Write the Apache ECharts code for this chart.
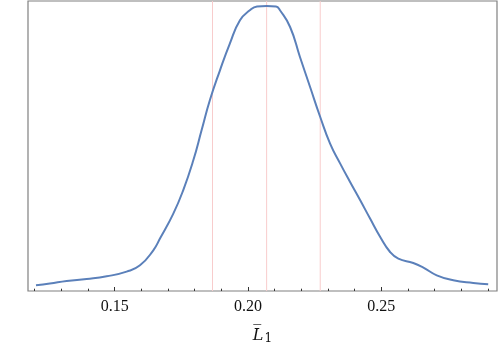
<!DOCTYPE html>
<html>
<head>
<meta charset="utf-8">
<script src="https://cdn.jsdelivr.net/npm/echarts@6/dist/echarts.min.js"></script>
<style>
  html, body { margin: 0; padding: 0; background: #fff; }
  #chart { width: 498px; height: 344px; }
</style>
</head>
<body>
<div id="chart"></div>
<script>
// density curve
const xs = [0.1205, 0.1257, 0.1320, 0.1395, 0.1470, 0.1545, 0.1595, 0.1645, 0.1670, 0.1720,
  0.1757, 0.1795, 0.1826, 0.1857, 0.1895, 0.1932, 0.1970, 0.2007, 0.2034, 0.2070, 0.2105,
  0.2120, 0.2158, 0.2195, 0.2233, 0.2271, 0.2308, 0.2346, 0.2383, 0.2421, 0.2458, 0.2496,
  0.2533, 0.2564, 0.2620, 0.2658, 0.2708, 0.2770, 0.2845, 0.2901];
const ys = [5.7, 7.4, 10, 12, 14.7, 19.4, 25.7, 40.7, 52.4, 77.4,
  100.7, 130.7, 160.7, 190.7, 220.7, 247.4, 270.7, 280.7, 284.5, 285, 284.5,
  280.7, 264, 234, 204, 174, 147.4, 127.4, 109, 90.7, 72.4, 54,
  39, 32.4, 28, 23.4, 15.7, 10.7, 8, 6.7];
const refLines = [0.1867, 0.2070, 0.2271];
const majorTicks = [0.15, 0.20, 0.25];
const minorTicks = [0.12, 0.13, 0.14, 0.16, 0.17, 0.18, 0.19, 0.21, 0.22, 0.23, 0.24, 0.26, 0.27, 0.28, 0.29];

const chart = echarts.init(document.getElementById('chart'));
const xMin = 0.1175, xMax = 0.2934;
const yMax = 290;

// faint vertical reference lines drawn as plain series
const refSeries = refLines.map(v => ({
  type: 'line',
  data: [[v, 0], [v, yMax]],
  symbol: 'none',
  silent: true,
  lineStyle: { color: '#f8cccc', width: 1 },
  z: 1
}));

chart.setOption({
  animation: false,
  grid: {
    left: 28, right: 1, top: 1, bottom: 53,
    outerBoundsMode: 'none',
    containLabel: false,
    show: true, borderColor: '#808080', borderWidth: 1.2
  },
  xAxis: [
    {
      type: 'value', min: xMin, max: xMax,
      axisLine: { show: false },
      splitLine: { show: false },
      axisTick: { show: true, inside: true, length: 4, customValues: majorTicks, lineStyle: { color: '#333' } },
      axisLabel: {
        customValues: majorTicks,
        formatter: v => v.toFixed(2),
        fontFamily: 'Liberation Serif', fontSize: 16, color: '#111', margin: 8
      },
      name: '{l|L\u0305}{s|1}',
      nameLocation: 'middle',
      nameGap: 35,
      nameTextStyle: {
        rich: {
          l: { fontFamily: 'DejaVu Serif', fontStyle: 'italic', fontSize: 16, color: '#111' },
          s: { fontFamily: 'DejaVu Serif', fontSize: 12, color: '#111', padding: [7, 0, 0, 1] }
        }
      }
    },
    {
      type: 'value', min: xMin, max: xMax, position: 'bottom',
      axisLine: { show: false },
      splitLine: { show: false },
      axisTick: { show: true, inside: true, length: 2.3, customValues: minorTicks, lineStyle: { color: '#333' } },
      axisLabel: { show: false }
    }
  ],
  yAxis: {
    type: 'value', min: 0, max: yMax,
    axisLine: { show: false },
    axisTick: { show: false },
    axisLabel: { show: false },
    splitLine: { show: false }
  },
  series: refSeries.concat([{
    type: 'line',
    data: xs.map((x, i) => [x, ys[i]]),
    smooth: 0.5,
    symbol: 'none',
    lineStyle: { color: '#5b80ba', width: 2 },
    z: 3
  }])
});
</script>
</body>
</html>
